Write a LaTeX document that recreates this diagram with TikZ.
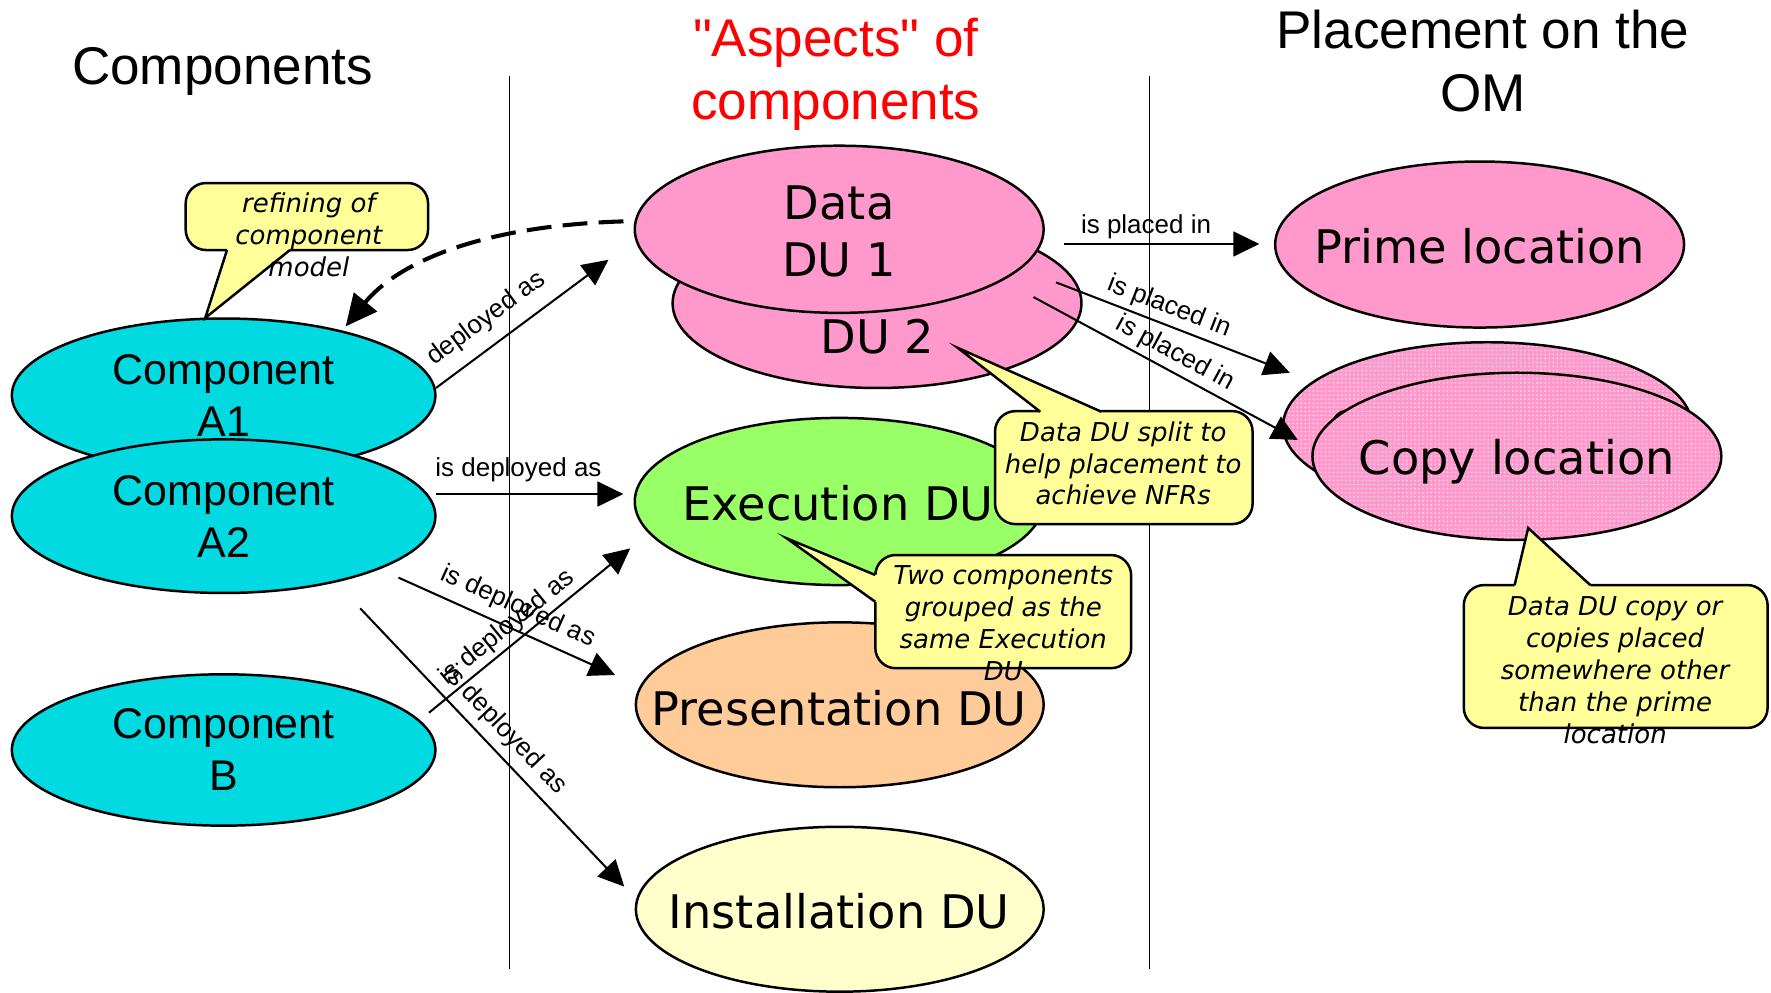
\documentclass[tikz,border=0pt]{standalone}
\usepackage{fontspec}
\setmainfont{Liberation Sans}[Ligatures=TeXOff]
\newfontfamily\dvfont{DejaVu Sans}
\usetikzlibrary{shapes.geometric,arrows.meta,patterns.meta,calc}
\definecolor{compcyan}{HTML}{00DAE0}
\definecolor{pinkfill}{HTML}{FF99CC}
\definecolor{execgreen}{HTML}{99FF66}
\definecolor{presorange}{HTML}{FFCC99}
\definecolor{instyellow}{HTML}{FFFFCC}
\definecolor{noteyellow}{HTML}{FFFF99}
\begin{document}
\begin{tikzpicture}[x=0.5pt,y=-0.5pt,
  title/.style={inner sep=0, align=center, font=\fontsize{23.5}{27.8}\selectfont},
  blob/.style={ellipse, draw, line width=1.1pt, inner sep=0, outer sep=0},
  comp/.style={blob, fill=compcyan, minimum width=187.5pt, minimum height=68pt,
    align=center, font=\fontsize{19}{23}\selectfont},
  du/.style={blob, minimum width=181pt, minimum height=74pt},
  dutext/.style={inner sep=0, align=center, text height=15pt, text depth=0pt,
    font=\dvfont\fontsize{20.5}{25.1}\selectfont},
  dotted pink/.style={preaction={fill=pinkfill},
    pattern={Dots[radius=0.4pt,distance=1.8pt]}, pattern color=white!65!pinkfill},
  divider/.style={line width=0.45pt},
  arr/.style={line width=0.9pt, -{Triangle[length=11.5pt,width=11pt]}},
  lbl/.style={inner sep=0, sloped, font=\fontsize{11.5}{13}\selectfont},
  notebox/.style={draw, fill=noteyellow, line width=1.1pt, rounded corners=9pt, inner sep=0},
  notetail/.style={fill=noteyellow},
  tailedge/.style={line width=1.1pt, line join=miter},
  notetext/.style={inner sep=0, align=center,
    font=\dvfont\itshape\fontsize{11.5}{14.1}\selectfont},
]
\useasboundingbox (0,0) rectangle (1568,879);
\fill[white] (0,0) rectangle (1568,879);

% column dividers
\draw[divider] (451,67) -- (451,858);
\draw[divider] (1018,67) -- (1018,858);

% column headings
\node[title] (hcomp) at (197,63) {Components};
\node[title, text=red] (hasp) at (740,66) {"Aspects" of\\components};
\node[title] (hplace) at (1313,54) {Placement on the\\OM};

% components
\node[comp] (A1) at (198,350) {Component\\A1};
\node[comp] (A2) at (198,457) {Component\\A2};
\node[comp, minimum height=67pt] (B) at (198,664) {Component\\B};

% deployment units
\node[du, fill=pinkfill, minimum height=75pt] (du2) at (776.5,268.5) {};
\node[dutext] (du2t) at (777,298) {DU 2};
\node[du, fill=pinkfill] (du1) at (743,203) {};
\node[dutext, text height=, text depth=] (du1t) at (743,205) {Data\\DU 1};
\node[du, fill=execgreen] (exec) at (743,444) {};
\node[dutext] (exect) at (742,446) {Execution DU};
\node[du, fill=presorange, minimum width=180.5pt, minimum height=73pt] (pres) at (743.5,624) {};
\node[dutext] (prest) at (743,627) {Presentation DU};
\node[du, fill=instyellow, minimum width=180.5pt, minimum height=73pt] (inst) at (743.5,805) {};
\node[dutext] (instt) at (743,807) {Installation DU};

% placement
\node[du, fill=pinkfill, minimum height=73.5pt] (prime) at (1310,216.5) {};
\node[dutext] (primet) at (1310,218) {Prime location};
\node[du, dotted pink] (copyB) at (1317,377) {};
\node[dutext] (copyBt) at (1317,378.5) {Copy location};
\node[du, dotted pink] (copyF) at (1343,404) {};
\node[dutext] (copyFt) at (1343,405.5) {Copy location};

% deployment connectors
\draw[arr] ($(A1)+(188,-6.5)$) -- node[lbl, pos=0.38, above=5.5pt] {deployed as} ($(du1)+(-204.3,27)$);
\draw[arr] ($(A2)+(188,-19.6)$) -- node[lbl, pos=0.44, above=5pt] {is deployed as} ($(exec)+(-191,-6.6)$);
\draw[arr] ($(A2)+(154.8,54.4)$) -- node[lbl, pos=0.51, above=4pt] {is deployed as} ($(pres)+(-198.9,-26.4)$);
\draw[arr] ($(B)+(181.8,-33)$) -- node[lbl, pos=0.44, above=1.5pt] {is deployed as} ($(exec)+(-185,41.5)$);
\draw[arr] ($(A2)+(120.9,81.6)$) -- node[lbl, pos=0.49, above=3.5pt] {is deployed as} ($(inst)+(-190.8,-20)$);

% placement connectors
\draw[arr] ($(du1)+(199,13)$) -- node[lbl, pos=0.42, above=1.7pt] {is placed in} ($(prime)+(-195,-0.5)$);
\draw[arr] ($(du2)+(158.5,-18.5)$) -- node[lbl, pos=0.456, above=2pt] {is placed in} ($(copyB)+(-175,-47)$);
\draw[arr] ($(du2)+(138.5,-5.5)$) -- node[lbl, pos=0.505, above=2pt] {is placed in} ($(copyF)+(-194,-14.5)$);

% refinement back to the component model
\draw[line width=1.8pt, dash pattern=on 11pt off 5pt, -{Triangle[length=14pt,width=13pt]}]
  ($(du1)+(-191,-7)$) .. controls (420,200) and (350,235) .. ($(A1)+(108,-61)$);

% note: refining of component model
\node[notebox, minimum width=107.3pt, minimum height=29.65pt] (n1) at (271.7,191.7) {};
\coordinate (n1tip) at (181.7,281.5);
\fill[notetail] (n1tip) -- (201,221.3) -- (201,217) -- (256.8,217) -- (256.8,221.3) -- cycle;
\draw[tailedge] (201,221.3) -- (n1tip) -- (256.8,221.3);
\node[notetext] (n1t) at (273.5,208) {refining of\\component\\model};

% note: data DU split
\node[notebox, minimum width=114pt, minimum height=50pt] (n2) at (995,414) {};
\coordinate (n2tip) at (848,308);
\fill[notetail] (n2tip) -- (921,364.5) -- (921,369) -- (975,369) -- (975,364.5) -- cycle;
\draw[tailedge] (921,364.5) -- (n2tip) -- (975,364.5);
\node[notetext] (n2t) at (994.5,410.3) {Data DU split to\\help placement to\\achieve NFRs};

% note: two components grouped
\node[notebox, minimum width=113.25pt, minimum height=50.1pt] (n3) at (888.25,541.5) {};
\coordinate (n3tip) at (696.5,476.6);
\fill[notetail] (n3tip) -- (774.8,509) -- (779,509) -- (779,532.7) -- (774.8,532.7) -- cycle;
\draw[tailedge] (774.8,509) -- (n3tip) -- (774.8,532.7);
\node[notetext] (n3t) at (888.3,551.6) {Two components\\grouped as the\\same Execution\\DU};

% note: data DU copies
\node[notebox, minimum width=134.5pt, minimum height=63.25pt] (n4) at (1430.5,581.25) {};
\coordinate (n4tip) at (1353,467.5);
\fill[notetail] (n4tip) -- (1341,518) -- (1341,522) -- (1408,522) -- (1408,518) -- cycle;
\draw[tailedge] (1341,518) -- (n4tip) -- (1408,518);
\node[notetext] (n4t) at (1430,593.3) {Data DU copy or\\copies placed\\somewhere other\\than the prime\\location};
\end{tikzpicture}
\end{document}
